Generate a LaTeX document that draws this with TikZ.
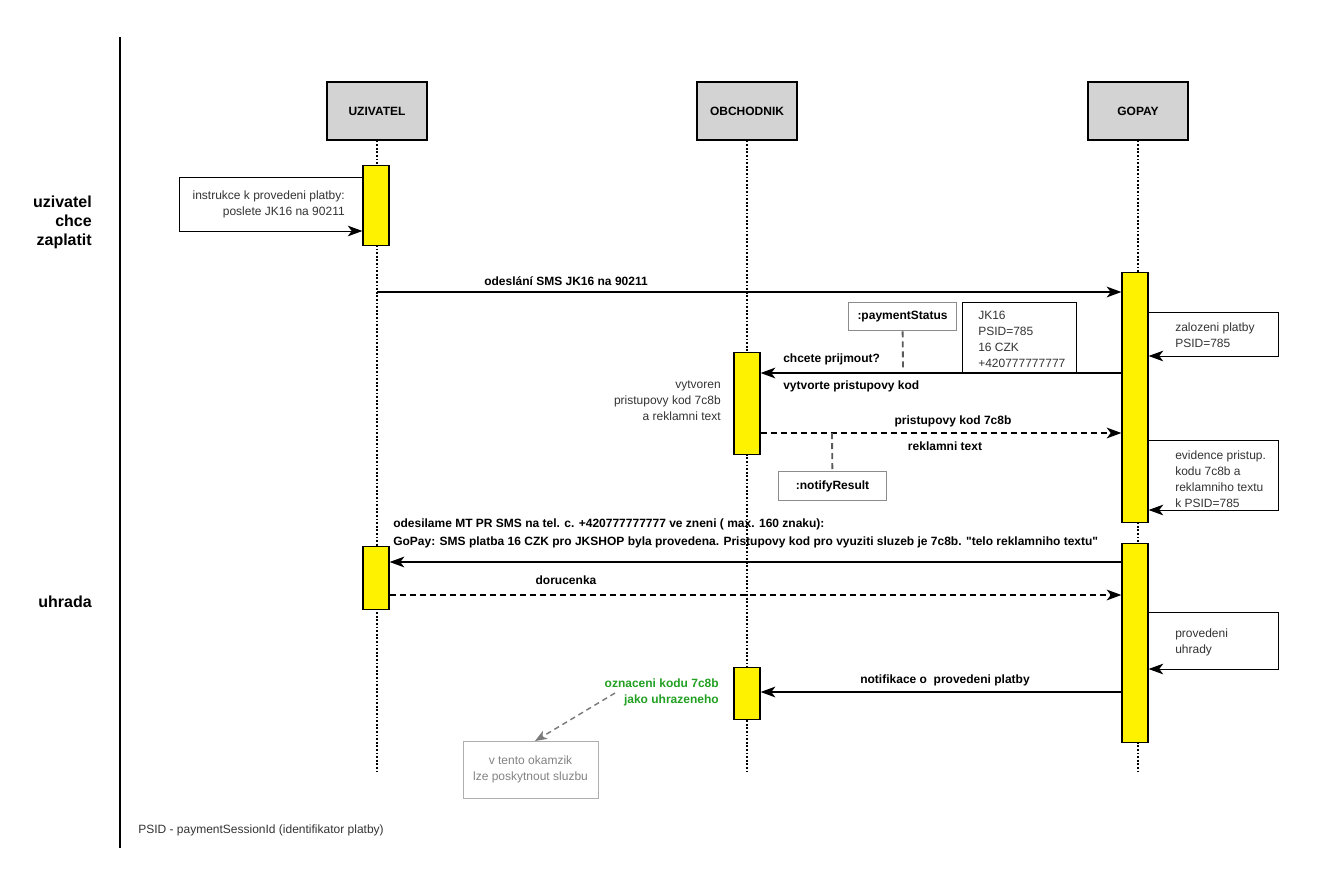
\documentclass[tikz,border=0pt]{standalone}
\usepackage{fontspec}
\setmainfont{Liberation Sans}
\usepackage{tikz}
\usetikzlibrary{arrows.meta,positioning,calc}
\definecolor{headgray}{RGB}{211,211,211}
\definecolor{textgray}{RGB}{51,51,51}
\definecolor{linkgray}{RGB}{90,90,90}
\definecolor{objgray}{RGB}{140,140,140}
\definecolor{notegray}{RGB}{130,130,130}
\definecolor{okgreen}{RGB}{34,160,34}
\newcommand{\txtfnt}{\fontsize{9}{12}\selectfont}
\newcommand{\hdfnt}{\fontsize{12}{14.25}\selectfont\bfseries}
\tikzstyle{head}=[draw,fill=headgray,line width=0.8pt,minimum width=75pt,minimum height=43.5pt,font=\txtfnt\bfseries]
\tikzstyle{life}=[line width=1.8pt,dash pattern=on 1.4pt off 1.3pt]
\tikzstyle{act}=[draw,fill=yellow,line width=0.9pt,minimum width=19.5pt,inner sep=0pt,anchor=north]
\tikzstyle{msg}=[line width=1.5pt,-{Stealth[length=11pt,width=8pt,inset=3pt]}]
\tikzstyle{reply}=[msg,dash pattern=on 4.5pt off 3pt]
\tikzstyle{selfbox}=[line width=0.75pt,-{Stealth[length=11pt,width=8pt,inset=3pt]}]
\tikzstyle{lbl}=[font=\txtfnt\bfseries,inner sep=0pt]
\tikzstyle{txt}=[text=textgray,inner sep=0pt,align=left]
\tikzstyle{obj}=[draw=objgray,line width=0.75pt,font=\txtfnt\bfseries,minimum width=80.5pt,minimum height=21.5pt,inner sep=0pt]
\tikzstyle{link}=[draw=linkgray,line width=1.4pt,dash pattern=on 4.5pt off 3pt]
\tikzstyle{gnote}=[draw=objgray!70,line width=0.75pt,text=notegray,align=center,minimum width=101.25pt,minimum height=42.75pt,inner sep=0pt]
\tikzstyle{gline}=[draw=linkgray!80,line width=1.1pt,dash pattern=on 4pt off 3pt,-{Stealth[length=9pt,width=7pt,inset=2.5pt]}]

\begin{document}
\begin{tikzpicture}[x=0.75pt,y=-0.75pt,every node/.style={font=\txtfnt}]
\useasboundingbox (0,0) rectangle (1317,882);
\draw[line width=2.2pt] (120,37) -- (120,848);
\foreach \n/\t/\x in {uz/UZIVATEL/377,ob/OBCHODNIK/747,gp/GOPAY/1138} {
	\node[head] (\n) at (\x,111) {\t};
	\coordinate (\n-end) at (\x,772);
	\draw[life] (\n) -- (\n-end);
}
\node[act,minimum height=60pt] (ua) at (376,165) {};
\node[act,minimum height=47.25pt] (ub) at (376,546) {};
\node[act,minimum height=76.5pt] (oa) at (747,352) {};
\node[act,minimum height=39pt] (oc) at (747,667) {};
\node[act,minimum height=187.5pt] (ga) at (1135,272) {};
\node[act,minimum height=149.25pt] (gb) at (1135,543) {};

\node[font=\hdfnt,anchor=east,align=right,inner sep=0pt] (phase1) at (92,222) {uzivatel\\chce\\zaplatit};
\node[font=\hdfnt,anchor=east,inner sep=0pt] (phase2) at (92,602) {uhrada};

\coordinate (i1) at (179,177);
\coordinate (i2) at (179,231);
\draw[selfbox] (ua.west |- i1) -- (i1) -- (i2) -- (ua.west |- i2);
\node[txt,anchor=east,align=right] (instr) at (345,204) {instrukce k provedeni platby:\\poslete JK16 na 90211};

\coordinate (m1) at (377,292);
\draw[msg] (m1) -- (ga.west |- m1);
\node[lbl] (sms) at (566,281) {odeslání SMS JK16 na 90211};

\foreach \a/\b in {312/356,440/510,612/669} {
	\coordinate (r\a) at (1278,\a);
	\coordinate (r\b) at (1278,\b);
	\draw[selfbox] (ga.east |- r\a) -- (r\a) -- (r\b) -- (ga.east |- r\b);
}
\node[txt,anchor=west] (zal) at (1175,335) {zalozeni platby\\PSID=785};
\node[txt,anchor=west] (evi) at (1175,479) {evidence pristup.\\kodu 7c8b a\\reklamniho textu\\k PSID=785};
\node[txt,anchor=west] (prov) at (1175,642) {provedeni\\uhrady};

\coordinate (j1) at (962,373);
\coordinate (j2) at (962,302);
\coordinate (j3) at (1076,302);
\coordinate (j4) at (1076,373);
\draw[line width=0.75pt] (j1) -- (j2) -- (j3) -- (j4);
\node[txt,anchor=west,align=left] (jk) at (978,339) {JK16\\PSID=785\\16 CZK\\+420777777777};

\node[obj] (ps) at (902.5,316.5) {:paymentStatus};
\coordinate (ps1) at (903,370);
\draw[link] (ps) -- (ps1);

\coordinate (m2) at (1122,373);
\draw[msg] (ga.west |- m2) -- (oa.east |- m2);
\node[lbl,anchor=west] (chc) at (783,359) {chcete prijmout?};
\node[lbl,anchor=west] (vyt) at (783,386) {vytvorte pristupovy kod};
\node[txt,anchor=east,align=right] (vytv) at (721,401) {vytvoren\\pristupovy kod 7c8b\\a reklamni text};

\coordinate (m3) at (760,433);
\draw[reply] (oa.east |- m3) -- (ga.west |- m3);
\node[lbl] (pk) at (953,421) {pristupovy kod 7c8b};
\node[lbl] (rt) at (945,446) {reklamni text};
\node[obj] (nr) at (832.5,486) {:notifyResult};
\coordinate (nr1) at (832,433);
\draw[link] (nr1) -- (nr);

\coordinate (m4) at (1122,562);
\draw[msg] (gb.west |- m4) -- (ub.east |- m4);
\node[lbl,anchor=west] (mt1) at (393,524) {odesilame MT PR SMS na tel. c. +420777777777 ve zneni ( max. 160 znaku):};
\node[lbl,anchor=west] (mt2) at (393,542) {GoPay: SMS platba 16 CZK pro JKSHOP byla provedena. Pristupovy kod pro vyuziti sluzeb je 7c8b. \textquotedbl telo reklamniho textu\textquotedbl};

\coordinate (m5) at (389,595);
\draw[reply] (ub.east |- m5) -- (gb.west |- m5);
\node[lbl] (dor) at (566,580) {dorucenka};

\coordinate (m6) at (1122,692);
\draw[msg] (gb.west |- m6) -- (oc.east |- m6);
\node[lbl] (notif) at (945,680) {notifikace o\ \ provedeni platby};
\node[lbl,text=okgreen,anchor=east,align=right] (ozn) at (719,692) {oznaceni kodu 7c8b\\jako uhrazeneho};

\node[gnote] (vt) at (530.5,769.5) {v tento okamzik\\lze poskytnout sluzbu};
\coordinate (vt0) at (615,693);
\coordinate (vt1) at (535,741);
\draw[gline] (vt0) -- (vt1);

\node[txt,anchor=west] (foot) at (138,830) {PSID - paymentSessionId (identifikator platby)};
\end{tikzpicture}
\end{document}
